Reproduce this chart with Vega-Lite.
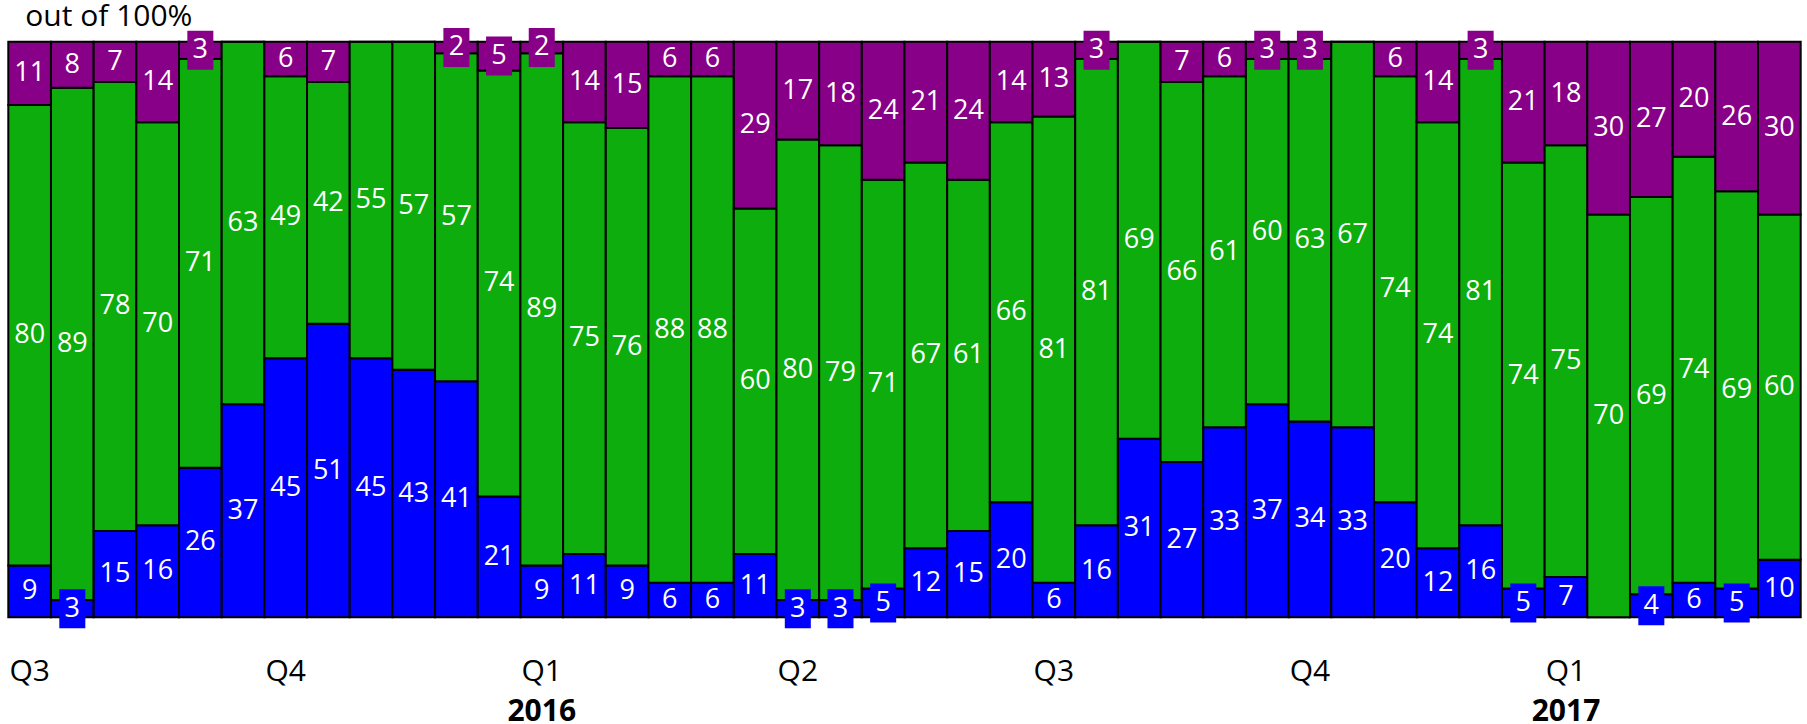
{
  "$schema": "https://vega.github.io/schema/vega-lite/v6.json",
  "width": 1792.4,
  "height": 575.6,
  "autosize": {"type": "none"},
  "padding": {"left": 8.3, "top": 41.7, "right": 6.3, "bottom": 106.7},
  "background": "white",
  "config": {"view": {"stroke": null}, "font": "Open Sans"},
  "title": {"text": "out of 100%", "anchor": "start", "frame": "group", "orient": "top", "dx": 17, "offset": -28.5, "baseline": "alphabetic", "font": "Open Sans", "fontSize": 30, "fontWeight": "normal", "color": "black"},
  "data": {"values": [
    {"i":1,"c":"blue","v":9},{"i":1,"c":"green","v":80},{"i":1,"c":"purple","v":11},
    {"i":2,"c":"blue","v":3},{"i":2,"c":"green","v":89},{"i":2,"c":"purple","v":8},
    {"i":3,"c":"blue","v":15},{"i":3,"c":"green","v":78},{"i":3,"c":"purple","v":7},
    {"i":4,"c":"blue","v":16},{"i":4,"c":"green","v":70},{"i":4,"c":"purple","v":14},
    {"i":5,"c":"blue","v":26},{"i":5,"c":"green","v":71},{"i":5,"c":"purple","v":3},
    {"i":6,"c":"blue","v":37},{"i":6,"c":"green","v":63},{"i":6,"c":"purple","v":0},
    {"i":7,"c":"blue","v":45},{"i":7,"c":"green","v":49},{"i":7,"c":"purple","v":6},
    {"i":8,"c":"blue","v":51},{"i":8,"c":"green","v":42},{"i":8,"c":"purple","v":7},
    {"i":9,"c":"blue","v":45},{"i":9,"c":"green","v":55},{"i":9,"c":"purple","v":0},
    {"i":10,"c":"blue","v":43},{"i":10,"c":"green","v":57},{"i":10,"c":"purple","v":0},
    {"i":11,"c":"blue","v":41},{"i":11,"c":"green","v":57},{"i":11,"c":"purple","v":2},
    {"i":12,"c":"blue","v":21},{"i":12,"c":"green","v":74},{"i":12,"c":"purple","v":5},
    {"i":13,"c":"blue","v":9},{"i":13,"c":"green","v":89},{"i":13,"c":"purple","v":2},
    {"i":14,"c":"blue","v":11},{"i":14,"c":"green","v":75},{"i":14,"c":"purple","v":14},
    {"i":15,"c":"blue","v":9},{"i":15,"c":"green","v":76},{"i":15,"c":"purple","v":15},
    {"i":16,"c":"blue","v":6},{"i":16,"c":"green","v":88},{"i":16,"c":"purple","v":6},
    {"i":17,"c":"blue","v":6},{"i":17,"c":"green","v":88},{"i":17,"c":"purple","v":6},
    {"i":18,"c":"blue","v":11},{"i":18,"c":"green","v":60},{"i":18,"c":"purple","v":29},
    {"i":19,"c":"blue","v":3},{"i":19,"c":"green","v":80},{"i":19,"c":"purple","v":17},
    {"i":20,"c":"blue","v":3},{"i":20,"c":"green","v":79},{"i":20,"c":"purple","v":18},
    {"i":21,"c":"blue","v":5},{"i":21,"c":"green","v":71},{"i":21,"c":"purple","v":24},
    {"i":22,"c":"blue","v":12},{"i":22,"c":"green","v":67},{"i":22,"c":"purple","v":21},
    {"i":23,"c":"blue","v":15},{"i":23,"c":"green","v":61},{"i":23,"c":"purple","v":24},
    {"i":24,"c":"blue","v":20},{"i":24,"c":"green","v":66},{"i":24,"c":"purple","v":14},
    {"i":25,"c":"blue","v":6},{"i":25,"c":"green","v":81},{"i":25,"c":"purple","v":13},
    {"i":26,"c":"blue","v":16},{"i":26,"c":"green","v":81},{"i":26,"c":"purple","v":3},
    {"i":27,"c":"blue","v":31},{"i":27,"c":"green","v":69},{"i":27,"c":"purple","v":0},
    {"i":28,"c":"blue","v":27},{"i":28,"c":"green","v":66},{"i":28,"c":"purple","v":7},
    {"i":29,"c":"blue","v":33},{"i":29,"c":"green","v":61},{"i":29,"c":"purple","v":6},
    {"i":30,"c":"blue","v":37},{"i":30,"c":"green","v":60},{"i":30,"c":"purple","v":3},
    {"i":31,"c":"blue","v":34},{"i":31,"c":"green","v":63},{"i":31,"c":"purple","v":3},
    {"i":32,"c":"blue","v":33},{"i":32,"c":"green","v":67},{"i":32,"c":"purple","v":0},
    {"i":33,"c":"blue","v":20},{"i":33,"c":"green","v":74},{"i":33,"c":"purple","v":6},
    {"i":34,"c":"blue","v":12},{"i":34,"c":"green","v":74},{"i":34,"c":"purple","v":14},
    {"i":35,"c":"blue","v":16},{"i":35,"c":"green","v":81},{"i":35,"c":"purple","v":3},
    {"i":36,"c":"blue","v":5},{"i":36,"c":"green","v":74},{"i":36,"c":"purple","v":21},
    {"i":37,"c":"blue","v":7},{"i":37,"c":"green","v":75},{"i":37,"c":"purple","v":18},
    {"i":38,"c":"blue","v":0},{"i":38,"c":"green","v":70},{"i":38,"c":"purple","v":30},
    {"i":39,"c":"blue","v":4},{"i":39,"c":"green","v":69},{"i":39,"c":"purple","v":27},
    {"i":40,"c":"blue","v":6},{"i":40,"c":"green","v":74},{"i":40,"c":"purple","v":20},
    {"i":41,"c":"blue","v":5},{"i":41,"c":"green","v":69},{"i":41,"c":"purple","v":26},
    {"i":42,"c":"blue","v":10},{"i":42,"c":"green","v":60},{"i":42,"c":"purple","v":30}
  ]},
  "transform": [
    {"calculate": "datum.c == 'blue' ? 1 : datum.c == 'green' ? 2 : 3", "as": "ord"},
    {"stack": "v", "groupby": ["i"], "sort": [{"field": "ord", "order": "ascending"}], "as": ["y0", "y1"]},
    {"calculate": "(datum.y0 + datum.y1) / 2", "as": "mid"}
  ],
  "layer": [
    {
      "mark": {"type": "bar", "stroke": "black", "strokeWidth": 2},
      "encoding": {
        "x": {"field": "i", "type": "ordinal", "scale": {"paddingInner": 0, "paddingOuter": 0},
          "axis": {"values": [1, 7, 13, 19, 25, 31, 37], "labelExpr": "datum.value == 1 || datum.value == 25 ? 'Q3' : datum.value == 7 || datum.value == 31 ? 'Q4' : datum.value == 19 ? 'Q2' : 'Q1'", "orient": "bottom", "title": null, "domain": false, "ticks": false, "tickSize": 0, "grid": false, "labelAngle": 0, "labelFont": "Open Sans", "labelFontSize": 30, "labelColor": "black", "labelBaseline": "alphabetic", "labelPadding": 62.7, "labelOverlap": false}},
        "y": {"field": "y0", "type": "quantitative", "scale": {"domain": [0, 100], "nice": false}, "axis": null},
        "y2": {"field": "y1"},
        "color": {"field": "c", "type": "nominal", "scale": {"domain": ["blue", "green", "purple"], "range": ["#0000FF", "#0CAD0C", "#870087"]}, "legend": null}
      }
    },
    {
      "transform": [{"filter": "datum.v > 0 && datum.v <= 5"}],
      "mark": {"type": "point", "shape": "M-0.667,-1H0.667V1H-0.667Z", "filled": true, "size": 1521, "opacity": 1, "strokeWidth": 0},
      "encoding": {
        "x": {"field": "i", "type": "ordinal", "axis": null},
        "y": {"field": "mid", "type": "quantitative", "axis": null},
        "color": {"field": "c", "type": "nominal", "legend": null}
      }
    },
    {
      "transform": [{"filter": "datum.v > 0"}],
      "mark": {"type": "text", "color": "white", "fontSize": 27, "font": "Open Sans", "baseline": "middle", "align": "center"},
      "encoding": {
        "x": {"field": "i", "type": "ordinal",
          "axis": {"values": [13, 37], "labelExpr": "datum.value == 13 ? '2016' : '2017'", "orient": "bottom", "title": null, "domain": false, "ticks": false, "tickSize": 0, "grid": false, "labelAngle": 0, "labelFont": "Open Sans", "labelFontSize": 30, "labelFontWeight": "bold", "labelColor": "black", "labelBaseline": "alphabetic", "labelPadding": 103.5, "labelOverlap": false}},
        "y": {"field": "mid", "type": "quantitative", "axis": null},
        "text": {"field": "v", "type": "quantitative"}
      }
    }
  ],
  "resolve": {"axis": {"x": "independent"}}
}
